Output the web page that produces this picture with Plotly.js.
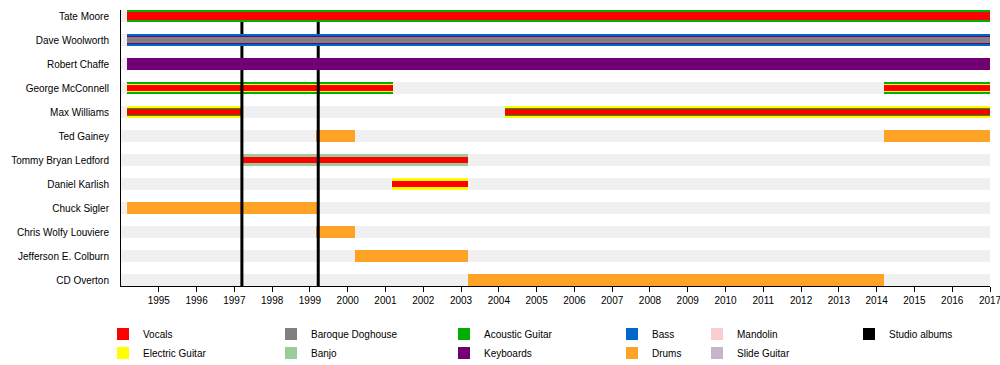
<!DOCTYPE html>
<html>
<head>
<meta charset="utf-8">
<script src="https://cdn.plot.ly/plotly-3.0.1.min.js"></script>
<style>html,body{margin:0;padding:0;background:#fff;}#chart{width:1000px;height:365px;}</style>
</head>
<body>
<div id="chart"></div>
<script>
// ---- data ----
const members = ['Tate Moore','Dave Woolworth','Robert Chaffe','George McConnell','Max Williams','Ted Gainey','Tommy Bryan Ledford','Daniel Karlish','Chuck Sigler','Chris Wolfy Louviere','Jefferson E. Colburn','CD Overton'];

const segMember = ['Tate Moore','Dave Woolworth','Robert Chaffe','George McConnell','George McConnell','Max Williams','Max Williams','Ted Gainey','Ted Gainey','Tommy Bryan Ledford','Daniel Karlish','Chuck Sigler','Chris Wolfy Louviere','Jefferson E. Colburn','CD Overton'];
const segStart  = [1994.16,1994.16,1994.16,1994.16,2014.2,1994.16,2004.16,1999.16,2014.2,1997.17,2001.17,1994.16,1999.16,2000.18,2003.18];
const segEnd    = [2017,2017,2017,2001.21,2017,1997.18,2017,2000.19,2017,2003.18,2003.18,1999.18,2000.19,2003.18,2014.2];
const segOuter  = ['Acoustic Guitar','Bass','Keyboards','Acoustic Guitar','Acoustic Guitar','Electric Guitar','Electric Guitar','Drums','Drums','Banjo','Electric Guitar','Drums','Drums','Drums','Drums'];
const segMiddle = ['Vocals','Keyboards','','Electric Guitar','Electric Guitar','Acoustic Guitar','Acoustic Guitar','','','','','','','',''];
const segInner  = ['','Baroque Doghouse','','Vocals','Vocals','Vocals','Vocals','','','Vocals','Vocals','','','',''];

const albumDates = [1997.2, 1999.22];

const instruments = ['Vocals','Electric Guitar','Baroque Doghouse','Banjo','Acoustic Guitar','Keyboards','Bass','Drums','Mandolin','Slide Guitar'];
const instColors  = ['#ff0000','#ffff00','#808080','#99cc99','#00b000','#720072','#0066cc','#ffa326','#fccdd0','#c9b5c9'];

const axisStart = 1994, axisEnd = 2017;
const xTicks = [1995,1996,1997,1998,1999,2000,2001,2002,2003,2004,2005,2006,2007,2008,2009,2010,2011,2012,2013,2014,2015,2016,2017];

// ---- build ----
const colorOf = {};
instruments.forEach((n,i)=>colorOf[n]=instColors[i]);
const rowOf = {};
members.forEach((m,i)=>rowOf[m]=i);

const FONT = 'Liberation Sans, Arial, sans-serif';
const traces = [];

// background rows
traces.push({
  type:'bar', orientation:'h', showlegend:false, hoverinfo:'skip',
  y: members.map((m,i)=>i), base: members.map(()=>axisStart), x: members.map(()=>axisEnd-axisStart),
  width: 0.5, marker:{color:'#f0f0f0', line:{width:0}}
});

function layer(names, w){
  const idx = names.map((n,i)=>n?i:-1).filter(i=>i>=0);
  traces.push({
    type:'bar', orientation:'h', showlegend:false, hoverinfo:'skip',
    y: idx.map(i=>rowOf[segMember[i]]),
    base: idx.map(i=>segStart[i]),
    x: idx.map(i=>segEnd[i]-segStart[i]),
    width: w,
    marker:{color: idx.map(i=>colorOf[names[i]]), line:{width:0}}
  });
}
layer(segOuter, 0.5);
layer(segMiddle, 0.3);
layer(segInner, 0.21);

// legend entries
const legendCols = [['Vocals','Electric Guitar'],['Baroque Doghouse','Banjo'],['Acoustic Guitar','Keyboards'],['Bass','Drums'],['Mandolin','Slide Guitar'],['Studio albums']];
const legendLeftPx = [103, 271, 444, 612, 697, 849];
legendCols.forEach((col,ci)=>{
  col.forEach(name=>{
    traces.push({
      type:'bar', orientation:'h', name:name, x:[null], y:[null],
      marker:{color: name==='Studio albums' ? '#000000' : colorOf[name], line:{width:0}},
      legend: ci===0 ? 'legend' : 'legend'+(ci+1), showlegend:true
    });
  });
});

const plotL = 121, plotR = 990, plotT = 10, plotB = 286;
const layout = {
  width:1000, height:365,
  margin:{l:plotL, r:1000-plotR, t:plotT, b:365-plotB, autoexpand:false},
  paper_bgcolor:'#fff', plot_bgcolor:'#fff',
  barmode:'overlay', bargap:0,
  font:{family:FONT, size:10, color:'#000'},
  xaxis:{range:[axisStart,axisEnd], tickvals:xTicks, ticktext:xTicks.map(String),
    showgrid:false, zeroline:false, showline:true, linecolor:'#000', linewidth:1,
    ticks:'outside', ticklen:5, tickcolor:'#000', tickwidth:1, ticklabeloverflow:'allow',
    tickfont:{family:FONT,size:10,color:'#000'}, fixedrange:true},
  yaxis:{range:[members.length-0.75,-0.25], tickvals:members.map((m,i)=>i), ticktext:members,
    showgrid:false, zeroline:false, showline:true, linecolor:'#000', linewidth:1,
    ticks:'', ticklabelstandoff:9,
    tickfont:{family:FONT,size:10,color:'#000'}, fixedrange:true},
  shapes: [],
};
albumDates.forEach(d=>{
  layout.shapes.push({type:'line', xref:'x', yref:'y', x0:d, x1:d, y0:0.25, y1:2.25, layer:'below', line:{color:'#000', width:3}});
  layout.shapes.push({type:'line', xref:'x', yref:'y', x0:d, x1:d, y0:2.25, y1:members.length-0.75, layer:'above', line:{color:'#000', width:3}});
});
legendLeftPx.forEach((px,ci)=>{
  const key = ci===0 ? 'legend' : 'legend'+(ci+1);
  layout[key] = {x:(px-plotL)/(plotR-plotL), xanchor:'left', y:(plotB-319.5)/(plotB-plotT), yanchor:'top',
    orientation:'v', bgcolor:'rgba(0,0,0,0)', borderwidth:0, font:{family:FONT,size:10,color:'#000'},
    itemclick:false, itemdoubleclick:false, tracegroupgap:0};
});

Plotly.newPlot('chart', traces, layout, {staticPlot:true, displayModeBar:false});
</script>
</body>
</html>
